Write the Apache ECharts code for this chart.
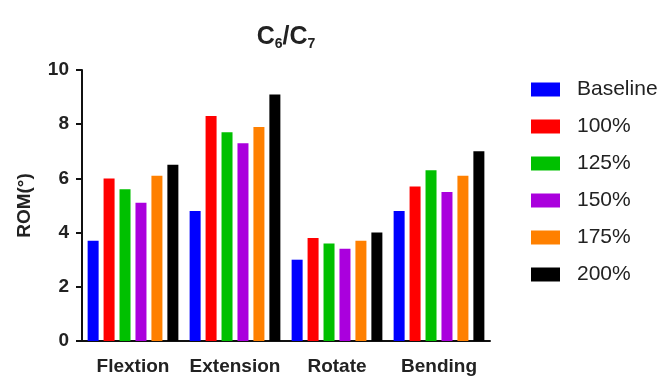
<!DOCTYPE html>
<html>
<head>
<meta charset="utf-8">
<script src="https://cdn.jsdelivr.net/npm/echarts@6/dist/echarts.min.js"></script>
<style>
  html, body { margin: 0; padding: 0; background: #fff; }
  #chart { width: 664px; height: 377px; }
</style>
</head>
<body>
<div id="chart"></div>
<script>
// Данные графика
const categories = ["Flextion", "Extension", "Rotate", "Bending"];
const seriesNames = ["Baseline", "100%", "125%", "150%", "175%", "200%"];
const seriesColors = ["#0000ff", "#ff0000", "#00c000", "#aa00dd", "#ff8000", "#000000"];
const baseline = [3.7, 4.8, 3.0, 4.8];
const p100 = [6.0, 8.3, 3.8, 5.7];
const p125 = [5.6, 7.7, 3.6, 6.3];
const p150 = [5.1, 7.3, 3.4, 5.5];
const p175 = [6.1, 7.9, 3.7, 6.1];
const p200 = [6.5, 9.1, 4.0, 7.0];
const seriesValues = [baseline, p100, p125, p150, p175, p200];

const chart = echarts.init(document.getElementById("chart"));
const font = "Liberation Sans, Arial, Helvetica, sans-serif";

const option = {
    animation: false,
    title: {
        text: "{b|C}{s|6}{b|/C}{s|7}",
        left: 286,
        textAlign: "center",
        top: 23,
        padding: 0,
        textStyle: {
            rich: {
                b: { fontFamily: font, fontWeight: "bold", fontSize: 25, color: "#222", lineHeight: 28 },
                s: { fontFamily: font, fontWeight: "bold", fontSize: 14, color: "#222", lineHeight: 28, padding: [14, 0, 0, 0] }
            }
        }
    },
    legend: {
        orient: "vertical",
        left: 531,
        top: 79,
        padding: 0,
        itemWidth: 29,
        itemHeight: 14,
        itemGap: 16,
        icon: "rect",
        textStyle: { fontFamily: font, fontSize: 21, color: "#222", padding: [0, 0, 0, 12], lineHeight: 20 },
        data: seriesNames
    },
    grid: { left: 82, right: 174, top: 70, bottom: 36, containLabel: false },
    xAxis: {
        type: "category",
        data: categories,
        axisLine: { lineStyle: { color: "#111", width: 2 } },
        axisTick: { alignWithLabel: true, length: 7, lineStyle: { width: 2, color: "#111" }, interval: 0 },
        axisLabel: { fontFamily: font, fontWeight: "bold", fontSize: 19, color: "#222", margin: 16, interval: 0 }
    },
    yAxis: {
        type: "value",
        min: 0,
        max: 10,
        interval: 2,
        name: "ROM(°)",
        nameLocation: "middle",
        nameGap: 48,
        nameRotate: 90,
        nameTextStyle: { fontFamily: font, fontWeight: "bold", fontSize: 19, color: "#222" },
        splitLine: { show: false },
        axisLine: { show: true, lineStyle: { color: "#111", width: 2 } },
        axisTick: { show: true, length: 6, lineStyle: { width: 2, color: "#111" } },
        axisLabel: { fontFamily: font, fontWeight: "bold", fontSize: 19, color: "#222", margin: 13 }
    },
    series: seriesNames.map((name, i) => ({
        name: name,
        type: "bar",
        data: seriesValues[i],
        barWidth: 11,
        barGap: "45%",
        itemStyle: { color: seriesColors[i] }
    }))
};

chart.setOption(option);
</script>
</body>
</html>
